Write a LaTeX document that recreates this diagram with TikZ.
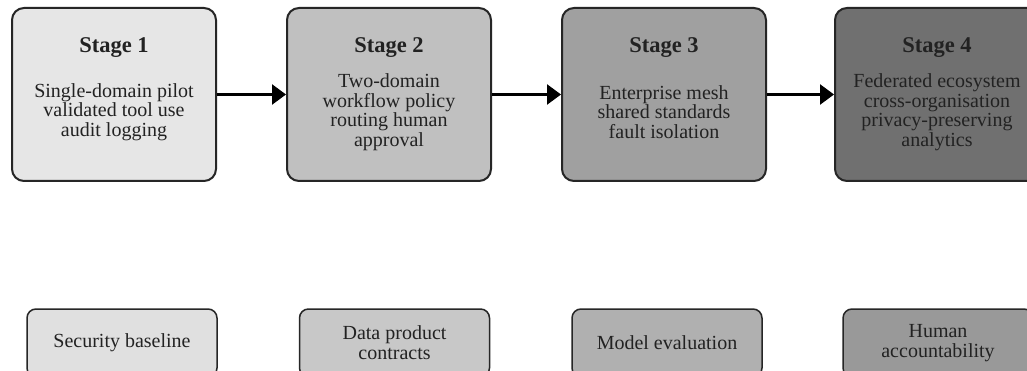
\documentclass[tikz,border=0pt]{standalone}
\usepackage{fontspec}
\setmainfont{Liberation Serif}
\usetikzlibrary{arrows.meta}
\definecolor{txt}{HTML}{222222}
\definecolor{sa}{HTML}{E6E6E6}
\definecolor{sb}{HTML}{C0C0C0}
\definecolor{sc}{HTML}{A0A0A0}
\definecolor{sd}{HTML}{707070}
\definecolor{ba}{HTML}{E0E0E0}
\definecolor{bb}{HTML}{C8C8C8}
\definecolor{bc}{HTML}{B0B0B0}
\definecolor{bd}{HTML}{999999}
\tikzset{
  stagebox/.style={draw=black!85, line width=2pt, rounded corners=12pt,
    minimum width=204pt, minimum height=173pt, inner sep=0pt},
  title/.style={font=\fontsize{22.5}{24}\selectfont\bfseries, text=txt, inner sep=0pt},
  body/.style={font=\fontsize{20}{19.5}\selectfont, text=txt, align=center, inner sep=0pt},
  capbox/.style={draw=black!85, line width=1.5pt, rounded corners=9pt,
    minimum width=190pt, minimum height=68pt, inner sep=0pt,
    font=\fontsize{20}{20}\selectfont, text=txt, align=center},
  flow/.style={line width=2.5pt, draw=black, -{Triangle[length=14pt,width=20pt]}}
}
\begin{document}
\begin{tikzpicture}[x=1pt,y=-1pt]
\useasboundingbox (0,0) rectangle (1027,371);
\clip (0,0) rectangle (1027,371);
\fill[white] (0,0) rectangle (1027,371);
% stage boxes
\node[stagebox, fill=sa] (s1) at (114,94.5) {};
\node[stagebox, fill=sb] (s2) at (389,94.5) {};
\node[stagebox, fill=sc] (s3) at (664,94.5) {};
\node[stagebox, fill=sd] (s4) at (937,94.5) {};
% titles
\node[title, anchor=base] (t1) at (114,53) {Stage 1};
\node[title, anchor=base] (t2) at (389,53) {Stage 2};
\node[title, anchor=base] (t3) at (664,53) {Stage 3};
\node[title, anchor=base] (t4) at (937,53) {Stage 4};
% bodies
\node[body] (b1) at (114,112) {Single-domain pilot\\validated tool use\\audit logging};
\node[body] (b2) at (389,112) {Two-domain\\workflow policy\\routing human\\approval};
\node[body] (b3) at (664,112) {Enterprise mesh\\shared standards\\fault isolation};
\node[body] (b4) at (937,112) {Federated ecosystem\\cross-organisation\\privacy-preserving\\analytics};
% arrows
\draw[flow] (s1.east) -- (s2.west);
\draw[flow] (s2.east) -- (s3.west);
\draw[flow] (s3.east) -- (s4.west);
% capability boxes
\node[capbox, fill=ba] (c1) at (122,343) {Security baseline};
\node[capbox, fill=bb] (c2) at (394.5,343) {Data product\\contracts};
\node[capbox, fill=bc] (c3) at (667,343) {Model evaluation};
\node[capbox, fill=bd] (c4) at (938,343) {Human\\accountability};
\end{tikzpicture}
\end{document}
